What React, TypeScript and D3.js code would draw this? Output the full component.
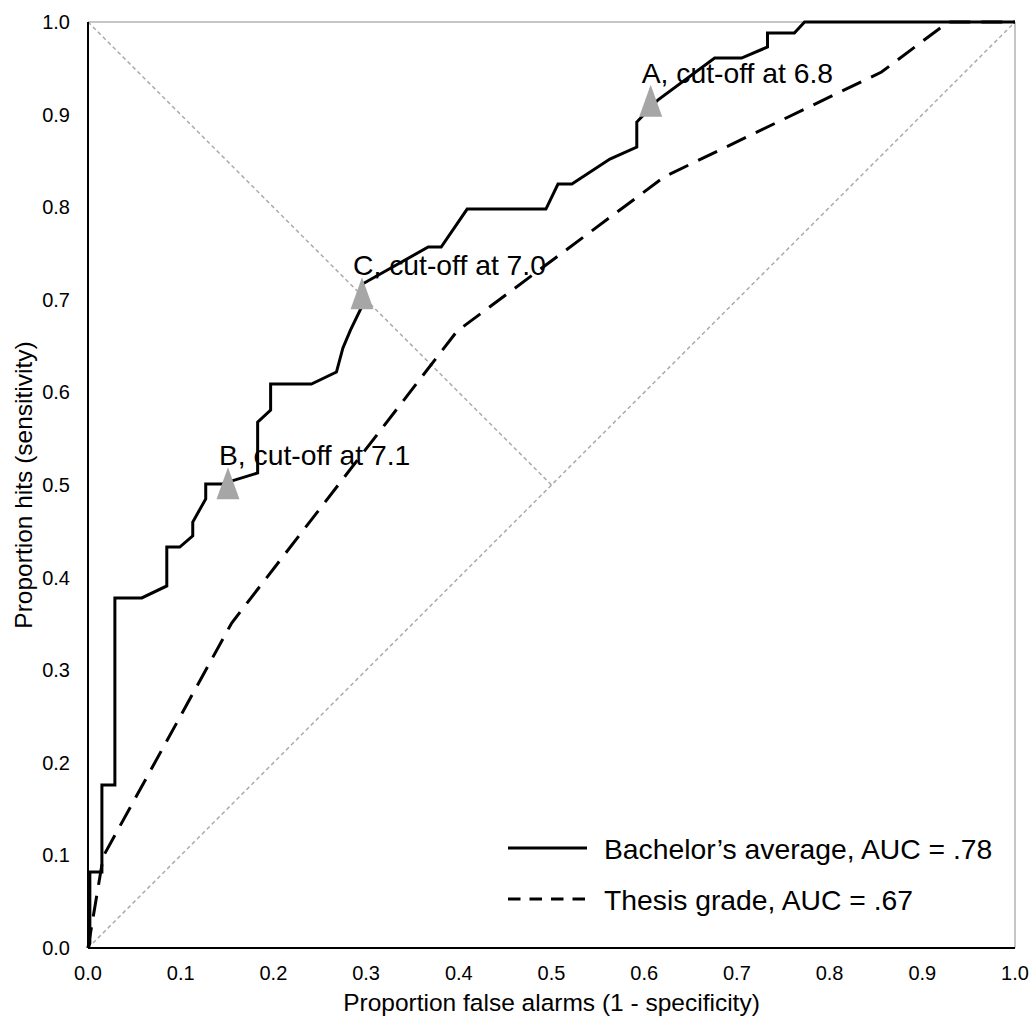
import React from "react";
import * as d3 from "d3";

// ROC points: [false alarm rate, hit rate]
const bachelorCurve: [number, number][] = [
  [0, 0], [0.002, 0.005], [0.002, 0.082], [0.015, 0.082], [0.015, 0.176],
  [0.029, 0.176], [0.029, 0.378], [0.058, 0.378], [0.085, 0.391], [0.085, 0.433],
  [0.099, 0.433], [0.113, 0.445], [0.113, 0.46], [0.127, 0.485], [0.127, 0.501],
  [0.144, 0.501], [0.183, 0.513], [0.183, 0.568], [0.197, 0.581], [0.197, 0.609],
  [0.241, 0.609], [0.268, 0.622], [0.275, 0.648], [0.283, 0.667], [0.296, 0.694],
  [0.296, 0.717], [0.367, 0.757], [0.381, 0.757], [0.409, 0.798], [0.494, 0.798],
  [0.507, 0.825], [0.522, 0.825], [0.563, 0.852], [0.592, 0.865], [0.592, 0.892],
  [0.615, 0.916], [0.676, 0.961], [0.705, 0.961], [0.733, 0.973], [0.733, 0.988],
  [0.762, 0.988], [0.773, 1.0], [1.0, 1.0],
];

const thesisCurve: [number, number][] = [
  [0, 0], [0.0165, 0.099], [0.155, 0.351], [0.398, 0.666],
  [0.622, 0.833], [0.856, 0.946], [0.928, 1.0], [1.0, 1.0],
];

const chanceLine: [number, number][] = [[0, 0], [1, 1]];
const youdenLine: [number, number][] = [[0, 1], [0.5, 0.5]];

const cutoffLabels = ["A, cut-off at 6.8", "C, cut-off at 7.0", "B, cut-off at 7.1"];
const cutoffPoints: [number, number][] = [[0.607, 0.915], [0.2956, 0.707], [0.151, 0.502]];

const legendLabels = ["Bachelor\u2019s average, AUC = .78", "Thesis grade, AUC = .67"];
const tickValues = [0, 0.1, 0.2, 0.3, 0.4, 0.5, 0.6, 0.7, 0.8, 0.9, 1.0];

const W = 1032;
const H = 1018;
const FONT = "'Liberation Sans', Arial, sans-serif";

export default function App() {
  const x = d3.scaleLinear().domain([0, 1]).range([88, 1015]);
  const y = d3.scaleLinear().domain([0, 1]).range([948, 22]);
  const line = d3.line<[number, number]>().x(d => x(d[0])).y(d => y(d[1]));
  const fmt = d3.format(".1f");

  const tri = (cx: number, cy: number) =>
    `M${cx},${cy - 16}L${cx + 11.5},${cy + 16}L${cx - 11.5},${cy + 16}Z`;

  return (
    <div style={{ position: "absolute", left: 0, top: 0 }}>
      <svg width={W} height={H} style={{ display: "block", fontFamily: FONT }}>
        <rect width={W} height={H} fill="#fff" />

        {/* reference lines */}
        <path d={line(chanceLine)!} fill="none" stroke="#ababab" strokeWidth={1.5} strokeDasharray="4,3" />
        <path d={line(youdenLine)!} fill="none" stroke="#ababab" strokeWidth={1.5} strokeDasharray="4,3" />

        {/* top / right frame */}
        <line x1={x(0)} x2={x(1)} y1={y(1)} y2={y(1)} stroke="#b3b3b3" strokeWidth={1.5} />
        <line x1={x(1)} x2={x(1)} y1={y(1)} y2={y(0)} stroke="#b3b3b3" strokeWidth={1.5} />

        <path d={line(thesisCurve)!} fill="none" stroke="#000" strokeWidth={3} strokeDasharray="21,11" />
        <path d={line(bachelorCurve)!} fill="none" stroke="#000" strokeWidth={3} strokeLinejoin="miter" />

        {/* axes */}
        <line x1={x(0)} x2={x(0)} y1={y(1)} y2={y(0)} stroke="#000" strokeWidth={2} />
        <line x1={x(0)} x2={x(1)} y1={y(0)} y2={y(0)} stroke="#000" strokeWidth={2} />

        {tickValues.map(t => (
          <text key={"y" + t} x={x(0) - 18} y={y(t)} textAnchor="end" dominantBaseline="central" fontSize={20} fill="#000">
            {fmt(t)}
          </text>
        ))}
        {tickValues.map(t => (
          <text key={"x" + t} x={x(t)} y={y(0) + 32} textAnchor="middle" fontSize={20} fill="#000">
            {fmt(t)}
          </text>
        ))}

        <text x={(x(0) + x(1)) / 2} y={1011} textAnchor="middle" fontSize={24.5} fill="#000">
          Proportion false alarms (1 - specificity)
        </text>
        <text transform={`translate(32,${(y(0) + y(1)) / 2}) rotate(-90)`} textAnchor="middle" fontSize={24.5} fill="#000">
          Proportion hits (sensitivity)
        </text>

        {/* cut-off markers */}
        {cutoffPoints.map((p, i) => (
          <g key={cutoffLabels[i]}>
            <path d={tri(x(p[0]), y(p[1]))} fill="#a6a6a6" />
            <text x={x(p[0]) - 9} y={y(p[1]) - 18} fontSize={28.3} fill="#000">
              {cutoffLabels[i]}
            </text>
          </g>
        ))}

        {/* legend */}
        {legendLabels.map((lab, i) => {
          const ly = 848 + i * 51;
          return (
            <g key={lab}>
              <line x1={508} x2={587} y1={ly} y2={ly} stroke="#000" strokeWidth={3}
                strokeDasharray={i === 1 ? "12.5,9" : undefined} />
              <text x={604} y={ly + 11} fontSize={28.3} fill="#000">{lab}</text>
            </g>
          );
        })}
      </svg>
    </div>
  );
}
